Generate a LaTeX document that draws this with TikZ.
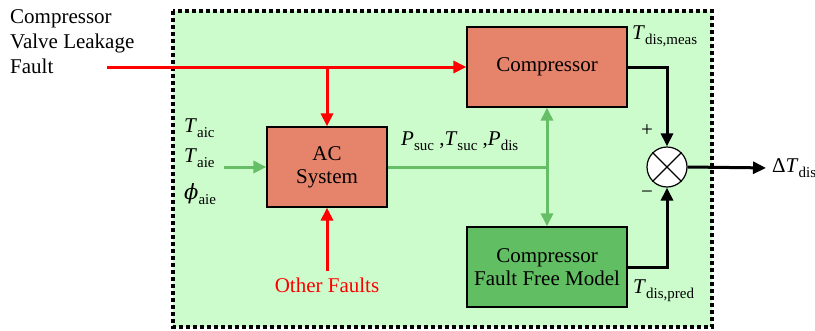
\documentclass[tikz,border=0pt]{standalone}
\usepackage{fontspec}
\setmainfont{Liberation Serif}
\newfontfamily\dvs{DejaVu Serif}
\usetikzlibrary{arrows.meta}
\definecolor{bgG}{HTML}{CCFCCC}
\definecolor{boxR}{HTML}{E6836B}
\definecolor{boxG}{HTML}{62BE62}
\definecolor{lnG}{HTML}{66BF66}
\definecolor{lnR}{HTML}{FF0000}
\newcommand\mysub[1]{\raisebox{-0.5ex}{\fontsize{15}{15}\selectfont #1}}
\tikzset{
  txt/.style={font=\fontsize{21}{25}\selectfont, inner sep=0pt},
  blk/.style={draw=black, line width=1.2pt, minimum width=160pt, minimum height=80pt, inner sep=0pt, align=center, font=\fontsize{21}{25}\selectfont},
  redarr/.style={draw=lnR, line width=3pt, -{Triangle[length=13pt,width=12pt]}},
  grnarr/.style={draw=lnG, line width=3pt, -{Triangle[length=13pt,width=12pt]}},
  blkarr/.style={draw=black, line width=3pt, -{Triangle[length=13pt,width=12pt]}},
}
\begin{document}
\begin{tikzpicture}[x=1pt,y=-1pt]
\useasboundingbox (0,0) rectangle (815,330);
% dotted frame
\draw[fill=bgG, line width=4pt, dash pattern=on 4pt off 3pt] (173,11) rectangle (712,327);
% blocks
\node[blk, fill=boxR] (comp) at (547,67) {Compressor};
\node[blk, fill=boxR, minimum width=120pt] (ac) at (327,167) {AC\\[-2pt]System};
\node[blk, fill=boxG] (ffm) at (547,267) {Compressor\\[-2pt]Fault Free Model};
\node[draw=black, fill=white, line width=1.2pt, circle, minimum size=40pt, inner sep=0pt] (sum) at (667,167) {};
\draw[line width=1.2pt] (sum.north west) -- (sum.south east) (sum.north east) -- (sum.south west);
% texts
\node[txt, anchor=north west, align=left] (fault) at (10,9) {Compressor\\Valve Leakage\\Fault};
\coordinate (fstart) at (107,67);
\node[txt, text=lnR] (other) at (327,285) {Other Faults};
\coordinate (ostart) at (327,271);
\node[txt, anchor=west] (taic) at (184,128) {\textit{T}\mysub{aic}};
\node[txt, anchor=west] (taie) at (184,158) {\textit{T}\mysub{aie}};
\node[txt, anchor=west] (phi) at (184,194) {{\dvs\itshape ϕ}\mysub{aie}};
\coordinate (instart) at (224,167);
\node[txt, anchor=west] (psuc) at (401,141) {\textit{P}\mysub{suc} ,\textit{T}\mysub{suc} ,\textit{P}\mysub{dis}};
\node[txt, anchor=west] (tmeas) at (632,36) {\textit{T}\mysub{dis,meas}};
\node[txt, anchor=west] (tpred) at (633,291) {\textit{T}\mysub{dis,pred}};
\node[txt] (plus) at (647,131) {+};
\node[txt] (minus) at (647,195) {−};
\node[txt, anchor=west] (dT) at (772,168) {Δ\textit{T}\mysub{dis}};
\coordinate (junc) at (547,167);
\coordinate (rbr) at (327,67);
% red connectors
\draw[redarr] (fstart) -- (comp.west);
\draw[redarr] (rbr) -- (ac.north);
\draw[redarr] (ostart) -- (ac.south);
% green connectors
\draw[grnarr] (instart) -- (ac.west);
\draw[draw=lnG, line width=3pt] (ac.east) -- (junc);
\draw[grnarr] (junc) -- (comp.south);
\draw[grnarr] (junc) -- (ffm.north);
% black connectors
\draw[blkarr] (comp.east) -| (sum.north);
\draw[blkarr] (ffm.east) -| (sum.south);
\draw[blkarr, shorten >=6pt] (sum.east) -- (dT.west);
\end{tikzpicture}
\end{document}
